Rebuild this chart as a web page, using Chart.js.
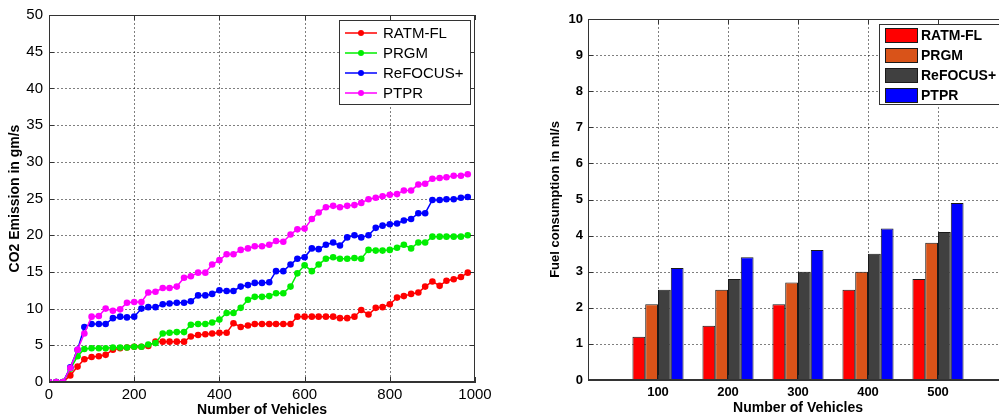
<!DOCTYPE html>
<html>
<head>
<meta charset="utf-8">
<script src="https://cdn.jsdelivr.net/npm/chart.js@4.4.0/dist/chart.umd.min.js"></script>
<style>
  html, body { margin: 0; padding: 0; background: #fff; overflow: hidden; }
  body { width: 999px; height: 417px; position: relative; }
  #left { position: absolute; left: 0; top: 0; width: 500px; height: 417px; }
  #right { position: absolute; left: 500px; top: 0; width: 515px; height: 417px; }
</style>
</head>
<body>
<div id="left"><canvas id="co2Chart"></canvas></div>
<div id="right"><canvas id="fuelChart"></canvas></div>
<script>
// CO2 emission vs number of vehicles
const vehicles = [0, 17, 33, 50, 67, 83, 100, 117, 133, 150, 167, 183, 200, 217, 233, 250, 267, 283, 300, 317,
  333, 350, 367, 383, 400, 417, 433, 450, 467, 483, 500, 517, 533, 550, 567, 583, 600, 617, 633, 650,
  667, 683, 700, 717, 733, 750, 767, 783, 800, 817, 833, 850, 867, 883, 900, 917, 933, 950, 967, 983];
const co2Ratm = [0, 0, 0, 0.9, 2.1, 3.1, 3.4, 3.5, 3.7, 4.4, 4.6, 4.7, 4.8, 4.8, 4.9, 5.5, 5.5, 5.5, 5.5, 5.5,
  6.2, 6.4, 6.5, 6.6, 6.7, 6.7, 8.0, 7.5, 7.7, 7.9, 7.9, 7.9, 7.9, 7.9, 7.9, 8.9, 8.9, 8.9, 8.9, 8.9,
  8.9, 8.7, 8.7, 8.9, 9.8, 9.2, 10.1, 10.2, 10.6, 11.5, 11.7, 12.0, 12.2, 13.0, 13.7, 13.1, 13.8, 14.0, 14.3, 14.9];
const co2Prgm = [0, 0, 0, 1.8, 3.5, 4.5, 4.6, 4.6, 4.6, 4.7, 4.7, 4.7, 4.8, 4.8, 5.1, 5.3, 6.6, 6.7, 6.8, 6.8,
  7.8, 7.9, 7.9, 8.1, 8.5, 9.4, 9.4, 10.1, 11.2, 11.6, 11.6, 11.7, 12.1, 12.1, 13.0, 14.8, 15.9, 15.1, 16.0, 16.8,
  17.0, 16.8, 16.8, 16.9, 16.8, 18.0, 17.9, 17.9, 18.0, 18.3, 18.7, 18.2, 19.0, 19.0, 19.8, 19.8, 19.8, 19.8, 19.8, 20.0];
const co2Refocus = [0, 0, 0, 2.0, 4.4, 7.5, 7.9, 7.9, 7.9, 8.7, 8.9, 8.8, 8.9, 10.0, 10.2, 10.2, 10.6, 10.7, 10.8, 10.8,
  11.0, 11.8, 11.8, 12.0, 12.5, 12.4, 12.4, 13.0, 13.2, 13.5, 13.5, 13.6, 15.1, 15.1, 16.0, 16.8, 17.0, 18.2, 18.1, 18.7,
  19.0, 18.6, 19.7, 20.0, 19.7, 20.0, 21.0, 21.3, 21.5, 21.6, 22.0, 22.2, 23.0, 23.0, 24.8, 24.8, 24.9, 24.9, 25.1, 25.2];
const co2Ptpr = [0, 0, 0, 1.9, 4.4, 6.6, 8.9, 9.0, 10.0, 9.7, 9.9, 10.8, 10.9, 10.9, 12.2, 12.3, 12.8, 12.8, 13.0, 14.2,
  14.4, 14.9, 14.9, 16.0, 16.6, 17.4, 17.4, 18.0, 18.2, 18.5, 18.5, 18.7, 19.2, 19.1, 20.1, 20.8, 20.9, 22.2, 23.1, 23.8,
  24.0, 23.8, 24.0, 24.1, 24.4, 24.9, 25.1, 25.3, 25.5, 25.6, 26.1, 26.1, 26.9, 27.0, 27.7, 27.8, 27.9, 28.1, 28.1, 28.3];

// fuel consumption bars
const fuelCategories = ['100', '200', '300', '400', '500'];
const fuelRatm = [1.2, 1.5, 2.1, 2.5, 2.8];
const fuelPrgm = [2.1, 2.5, 2.7, 3.0, 3.8];
const fuelRefocus = [2.5, 2.8, 3.0, 3.5, 4.1];
const fuelPtpr = [3.1, 3.4, 3.6, 4.2, 4.9];

const seriesNames = ['RATM-FL', 'PRGM', 'ReFOCUS+', 'PTPR'];
const lineColors = ['#ff0000', '#00ee00', '#0000ff', '#ff00ff'];
const barColors = ['#ff0000', '#d95319', '#404040', '#0000ff'];

const FONT = '"Liberation Sans", Arial, sans-serif';
Chart.defaults.font.family = FONT;
Chart.defaults.color = '#000';

// dotted grid, box round the plot and short inward ticks on every side
const framePlugin = {
  id: 'frame',
  beforeDatasetsDraw(chart) {
    const { ctx, chartArea: a, scales } = chart;
    ctx.save();
    ctx.beginPath();
    ctx.rect(a.left, a.top, a.right - a.left, a.bottom - a.top);
    ctx.clip();
    ctx.strokeStyle = 'rgba(0,0,0,0.5)';
    ctx.lineWidth = 1;
    ctx.setLineDash([2, 2]);
    ctx.beginPath();
    scales.x.ticks.forEach((t, i) => {
      if (t.label === '') return;
      const px = Math.round(scales.x.getPixelForTick(i)) + 0.5;
      ctx.moveTo(px, a.top); ctx.lineTo(px, a.bottom);
    });
    scales.y.ticks.forEach((t, i) => {
      const py = Math.round(scales.y.getPixelForTick(i)) + 0.5;
      ctx.moveTo(a.left, py); ctx.lineTo(a.right, py);
    });
    ctx.stroke();
    ctx.restore();
  },
  afterDraw(chart) {
    const { ctx, chartArea: a, scales } = chart;
    ctx.save();
    ctx.setLineDash([]);
    ctx.strokeStyle = '#333';
    ctx.lineWidth = 1;
    ctx.strokeRect(Math.round(a.left) + 0.5, Math.round(a.top) + 0.5,
      Math.round(a.right - a.left) - 1, Math.round(a.bottom - a.top) - 1);
    ctx.beginPath();
    scales.x.ticks.forEach((t, i) => {
      if (t.label === '') return;
      const px = Math.round(scales.x.getPixelForTick(i)) + 0.5;
      ctx.moveTo(px, a.bottom); ctx.lineTo(px, a.bottom - 5);
      ctx.moveTo(px, a.top); ctx.lineTo(px, a.top + 5);
    });
    scales.y.ticks.forEach((t, i) => {
      const py = Math.round(scales.y.getPixelForTick(i)) + 0.5;
      ctx.moveTo(a.left, py); ctx.lineTo(a.left + 5, py);
      ctx.moveTo(a.right, py); ctx.lineTo(a.right - 5, py);
    });
    ctx.stroke();
    ctx.restore();
  }
};

// legend box drawn inside the plot
function boxLegend(opts) {
  return {
    id: 'boxLegend',
    afterDraw(chart) {
      const ctx = chart.ctx;
      ctx.save();
      ctx.setLineDash([]);
      ctx.fillStyle = '#fff';
      ctx.fillRect(opts.x, opts.y, opts.w, opts.h);
      ctx.strokeStyle = '#333';
      ctx.lineWidth = 1;
      ctx.strokeRect(opts.x + 0.5, opts.y + 0.5, opts.w, opts.h);
      ctx.font = opts.font;
      ctx.textBaseline = 'middle';
      chart.data.datasets.forEach((ds, i) => {
        const cy = opts.y + opts.rowTop + i * opts.rowGap;
        const sx = opts.x + opts.swatchX;
        if (opts.kind === 'line') {
          ctx.strokeStyle = ds.borderColor;
          ctx.lineWidth = 1.5;
          ctx.beginPath();
          ctx.moveTo(sx, cy); ctx.lineTo(sx + opts.swatchW, cy);
          ctx.stroke();
          ctx.fillStyle = ds.borderColor;
          ctx.beginPath();
          ctx.arc(sx + opts.swatchW / 2, cy, 3, 0, Math.PI * 2);
          ctx.fill();
        } else {
          ctx.fillStyle = ds.backgroundColor;
          ctx.fillRect(sx, cy - 7, opts.swatchW, 14);
          ctx.strokeStyle = '#1a1a1a';
          ctx.strokeRect(sx + 0.5, cy - 6.5, opts.swatchW, 14);
        }
        ctx.fillStyle = '#000';
        ctx.fillText(ds.label, sx + opts.swatchW + opts.textGap, cy + 1);
      });
      ctx.restore();
    }
  };
}

// the library grid is off; the plugin above draws the dotted one
const noGrid = { display: false, drawTicks: false };
const axisLine = { display: true, color: '#333', width: 1 };

const co2Series = [co2Ratm, co2Prgm, co2Refocus, co2Ptpr];
new Chart(document.getElementById('co2Chart'), {
  type: 'line',
  data: {
    datasets: co2Series.map((vals, i) => ({
      label: seriesNames[i],
      data: vals.map((v, k) => ({ x: vehicles[k], y: v })),
      borderColor: lineColors[i],
      backgroundColor: lineColors[i],
      pointBackgroundColor: lineColors[i],
      pointBorderWidth: 0,
      pointRadius: 3.3,
      borderWidth: 1.5,
      tension: 0,
      order: 4 - i
    }))
  },
  options: {
    responsive: true,
    maintainAspectRatio: false,
    animation: false,
    layout: { padding: { top: 15, right: 25, left: 0, bottom: 0 } },
    plugins: { legend: { display: false }, tooltip: { enabled: false } },
    scales: {
      x: {
        type: 'linear', min: 0, max: 1000,
        ticks: { stepSize: 200, font: { size: 15 }, padding: 4, maxRotation: 0, callback: v => String(v) },
        grid: noGrid, border: axisLine,
        title: { display: true, text: 'Number of Vehicles', font: { size: 14, weight: 'bold', lineHeight: 1 }, padding: { top: 0, bottom: 0 } },
        afterFit: s => { s.height = 35; }
      },
      y: {
        min: 0, max: 50,
        ticks: { stepSize: 5, font: { size: 15 }, padding: 6 },
        grid: noGrid, border: axisLine,
        title: { display: true, text: 'CO2 Emission in gm/s', font: { size: 14, weight: 'bold', lineHeight: 1 }, padding: { top: 8, bottom: 0 } },
        afterFit: s => { s.width = 49; }
      }
    }
  },
  plugins: [framePlugin, boxLegend({ kind: 'line', x: 339, y: 20, w: 131, h: 84, rowTop: 13, rowGap: 20, swatchX: 6, swatchW: 32, textGap: 6, font: '15px ' + FONT })]
});

const fuelSeries = [fuelRatm, fuelPrgm, fuelRefocus, fuelPtpr];
// empty slot on each side so the groups sit at 1..5 on a 0..6 axis
const fuelLabels = ['', ...fuelCategories, ''];
new Chart(document.getElementById('fuelChart'), {
  type: 'bar',
  data: {
    labels: fuelLabels,
    datasets: fuelSeries.map((vals, i) => ({
      label: seriesNames[i],
      data: [null, ...vals, null],
      backgroundColor: barColors[i],
      borderColor: '#1a1a1a',
      borderWidth: 1,
      categoryPercentage: 0.73,
      barPercentage: 1.0
    }))
  },
  options: {
    responsive: true,
    maintainAspectRatio: false,
    animation: false,
    layout: { padding: { top: 19, right: 7, left: 0, bottom: 0 } },
    plugins: { legend: { display: false }, tooltip: { enabled: false } },
    scales: {
      x: {
        offset: false,
        ticks: { font: { size: 13, weight: 'bold' }, padding: 5, maxRotation: 0, autoSkip: false },
        grid: noGrid, border: axisLine,
        title: { display: true, text: 'Number of Vehicles', font: { size: 14, weight: 'bold', lineHeight: 1 }, padding: { top: 0, bottom: 2 } },
        afterFit: s => { s.height = 37; }
      },
      y: {
        min: 0, max: 10,
        ticks: { stepSize: 1, font: { size: 13, weight: 'bold' }, padding: 5 },
        grid: noGrid, border: axisLine,
        title: { display: true, text: 'Fuel consumption in ml/s', font: { size: 13, weight: 'bold', lineHeight: 1 }, padding: { top: 49, bottom: 0 } },
        afterFit: s => { s.width = 88; }
      }
    }
  },
  plugins: [framePlugin, boxLegend({ kind: 'bar', x: 379, y: 24, w: 124, h: 80, rowTop: 11, rowGap: 20, swatchX: 6, swatchW: 32, textGap: 4, font: 'bold 14px ' + FONT })]
});
</script>
</body>
</html>
